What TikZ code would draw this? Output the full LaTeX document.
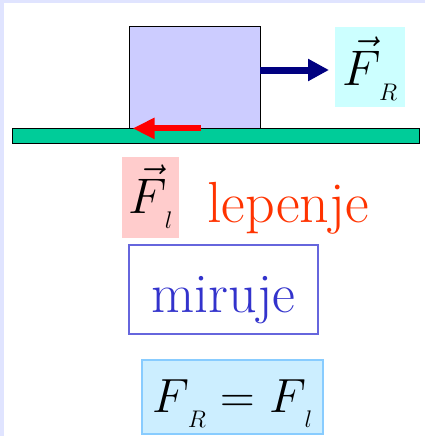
\RequirePackage{fix-cm}
\documentclass[tikz,border=0pt]{standalone}
\usepackage{amsmath}
\usetikzlibrary{arrows.meta, positioning}
\definecolor{slideframe}{RGB}{224,228,255}
\definecolor{blockfill}{RGB}{204,204,255}
\definecolor{groundgreen}{RGB}{0,204,153}
\definecolor{pushblue}{RGB}{0,0,128}
\definecolor{fricred}{RGB}{255,0,0}
\definecolor{rlabelfill}{RGB}{204,255,255}
\definecolor{llabelfill}{RGB}{255,204,204}
\definecolor{stickred}{RGB}{255,51,0}
\definecolor{restblue}{RGB}{51,51,204}
\definecolor{restframe}{RGB}{102,102,221}
\definecolor{eqfill}{RGB}{204,238,255}
\definecolor{eqframe}{RGB}{136,204,255}
\newcommand{\subF}[1]{\kern-2pt\raisebox{-15pt}{\fontsize{24}{24}\selectfont$#1$}}
\newcommand{\plainF}[1]{$F$\subF{#1}}
\newcommand{\vecF}[1]{$\vec{F}$\subF{#1}}
\tikzset{
  block/.style={draw=black, fill=blockfill, line width=0.8pt, inner sep=0pt},
  ground/.style={draw=black, fill=groundgreen, line width=0.8pt, inner sep=0pt},
  forcebox/.style={inner sep=0pt, font=\fontsize{50}{50}\selectfont},
  pusharrow/.style={-{Triangle[length=21pt, width=21pt]}, pushblue, line width=7pt},
  fricarrow/.style={-{Triangle[length=22pt, width=20pt]}, fricred, line width=6pt},
  statebox/.style={draw=restframe, line width=1.2pt, text=restblue, inner sep=0pt,
    font=\fontsize{56}{56}\selectfont},
  eqbox/.style={draw=eqframe, fill=eqfill, line width=1.2pt, inner sep=0pt,
    font=\fontsize{48}{48}\selectfont}
}

\begin{document}
\begin{tikzpicture}[x=1pt, y=-1pt]
        % Slide background
        \fill[slideframe] (0,0) rectangle (425,436);
        \fill[white] (4,3) rectangle (425,436);
        \useasboundingbox (0,0) rectangle (425,436);
        % Block and floor
        \node[block, minimum width=131pt, minimum height=102pt] (box) at (194.5,77) {};
        \node[ground, minimum width=407pt, minimum height=15pt] (floor) at (215.5,135.5) {};
        % Pulling force
        \coordinate (pushtip) at (329,70);
        \draw[pusharrow] (box.east |- pushtip) -- (pushtip);
        % Friction force
        \draw[fricarrow] ([xshift=72pt]box.south west) -- ([xshift=4pt]box.south west);
        % Force labels
        \node[forcebox, fill=rlabelfill, minimum width=70pt, minimum height=80pt,
          text height=50pt, text depth=14pt] (flabR) at (370,67) {\vecF{R}};
        \node[forcebox, fill=llabelfill, minimum width=57pt, minimum height=81pt,
          text height=47pt, text depth=16pt] (flabl) at (150.5,197.5) {\vecF{l}};
        \node[anchor=base west, inner sep=0pt, text=stickred,
          font=\fontsize{58}{58}\selectfont] (stick) at (207,222) {lepenje};
        % State
        \node[statebox, minimum width=189pt, minimum height=89pt,
          text height=57pt, text depth=12pt] (rest) at (223.5,289.5) {miruje};
        % Balance
        \node[eqbox, minimum width=181pt, minimum height=74pt,
          text height=36pt, text depth=6pt] (balance) at (232.5,397) {\plainF{R} = \plainF{l}};
      \end{tikzpicture}
\end{document}
